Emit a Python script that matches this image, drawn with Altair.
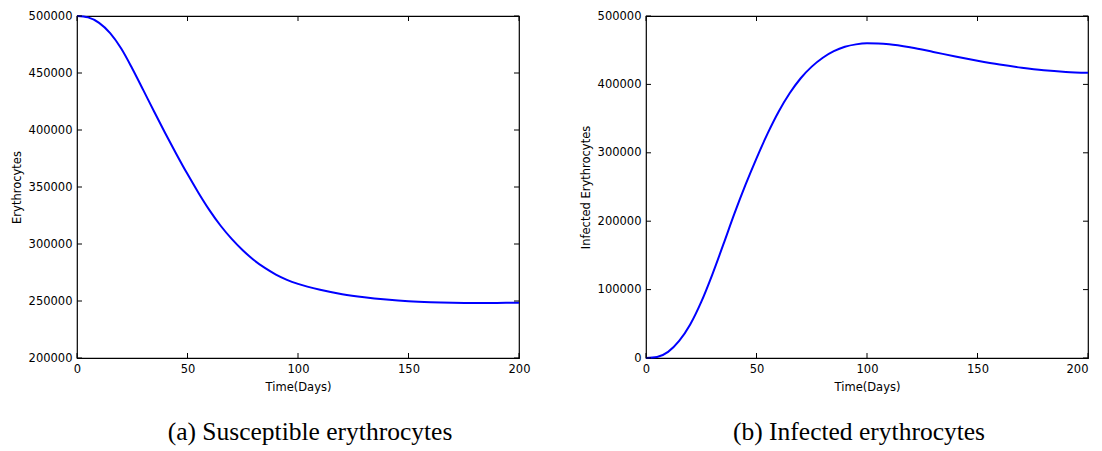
import altair as alt
import pandas as pd

# ---- data ----
t_s = [0, 5, 10, 15, 20, 25, 30, 35, 40, 45, 50, 55, 60, 65, 70, 75, 80, 85, 90,
       95, 100, 110, 120, 130, 140, 150, 160, 170, 180, 190, 200]
S = [500000, 498800, 494000, 485000, 471500, 454000, 435000, 415800, 397000,
     378800, 361300, 344800, 329500, 316000, 304500, 294500, 286000, 279000,
     273200, 268600, 265000, 259800, 256000, 253300, 251300, 249800, 248900,
     248400, 248200, 248300, 248500]

t_i = [0, 5, 10, 15, 20, 25, 30, 35, 40, 45, 50, 55, 60, 65, 70, 75, 80, 85, 90,
       95, 100, 105, 110, 120, 130, 140, 150, 160, 170, 180, 190, 200]
I = [0, 1500, 9000, 25000, 49000, 82000, 122000, 166000, 211000, 253000, 292000,
     328000, 360000, 387000, 409000, 426000, 439000, 448500, 455000, 458500,
     460000, 459800, 458800, 454000, 447500, 440800, 434600, 429000, 424400,
     420700, 418300, 416900]

x_ticks = [0, 50, 100, 150, 200]
s_ticks = [200000, 250000, 300000, 350000, 400000, 450000, 500000]
i_ticks = [0, 100000, 200000, 300000, 400000, 500000]

W, H = 442, 342
TL = 5  # inward tick length
FONT = "DejaVu Sans"


def panel(t, v, ydom, yticks, ytitle, caption, cap_dx, flush_last):
    df = pd.DataFrame({"t": t, "v": v})
    xs = alt.Scale(domain=[0, 200], nice=False, zero=False)
    ys = alt.Scale(domain=ydom, nice=False, zero=False)
    xkw = dict(values=x_ticks, title="Time(Days)", labelFlush=False, titlePadding=7)
    if flush_last:
        xkw["labelAlign"] = alt.expr("datum.value == 200 ? 'right' : 'center'")
    xax = alt.Axis(**xkw)
    yax = alt.Axis(values=yticks, title=ytitle, format="d", labelFlush=False,
                   titlePadding=6)
    ydf = pd.DataFrame({"t": [0] * len(yticks), "v": yticks})
    xdf = pd.DataFrame({"t": x_ticks, "v": [ydom[0]] * len(x_ticks)})
    line = alt.Chart(df).mark_line(color="#0000ff", strokeWidth=2,
                                   interpolate="monotone").encode(
        x=alt.X("t:Q", scale=xs, axis=xax),
        y=alt.Y("v:Q", scale=ys, axis=yax),
    )
    yl = alt.Chart(ydf).mark_rule(color="black", strokeWidth=1).encode(
        y=alt.Y("v:Q", scale=ys, axis=yax), x=alt.value(0), x2=alt.value(TL))
    yr = alt.Chart(ydf).mark_rule(color="black", strokeWidth=1).encode(
        y=alt.Y("v:Q", scale=ys, axis=yax), x=alt.value(W - TL), x2=alt.value(W))
    xt = alt.Chart(xdf).mark_rule(color="black", strokeWidth=1).encode(
        x=alt.X("t:Q", scale=xs, axis=xax), y=alt.value(0), y2=alt.value(TL))
    xb = alt.Chart(xdf).mark_rule(color="black", strokeWidth=1).encode(
        x=alt.X("t:Q", scale=xs, axis=xax), y=alt.value(H - TL), y2=alt.value(H))
    return alt.layer(line, yl, yr, xt, xb).properties(
        width=W, height=H,
        title=alt.TitleParams(caption, orient="bottom", anchor="middle",
                              frame="group", font="Liberation Serif",
                              fontSize=25.5, fontWeight="normal", color="black",
                              offset=27, dx=cap_dx),
    )


left = panel(t_s, S, [200000, 500000], s_ticks, "Erythrocytes",
             "(a) Susceptible erythrocytes", 12, False)
right = panel(t_i, I, [0, 500000], i_ticks, "Infected Erythrocytes",
              "(b) Infected erythrocytes", -8, True)

chart = alt.hconcat(left, right, spacing=48).properties(
    padding={"left": 2, "top": 1, "right": 0, "bottom": 0}
).configure_view(stroke="black", strokeWidth=1.2).configure_axis(
    labelFont=FONT, labelFontSize=11.5, labelColor="black",
    titleFont=FONT, titleFontSize=11.5, titleFontWeight="normal", titleColor="black",
    tickSize=0, ticks=False, domain=False, grid=False, labelPadding=5,
)

chart.save("out.html", embed_options={"renderer": "svg", "actions": False})
